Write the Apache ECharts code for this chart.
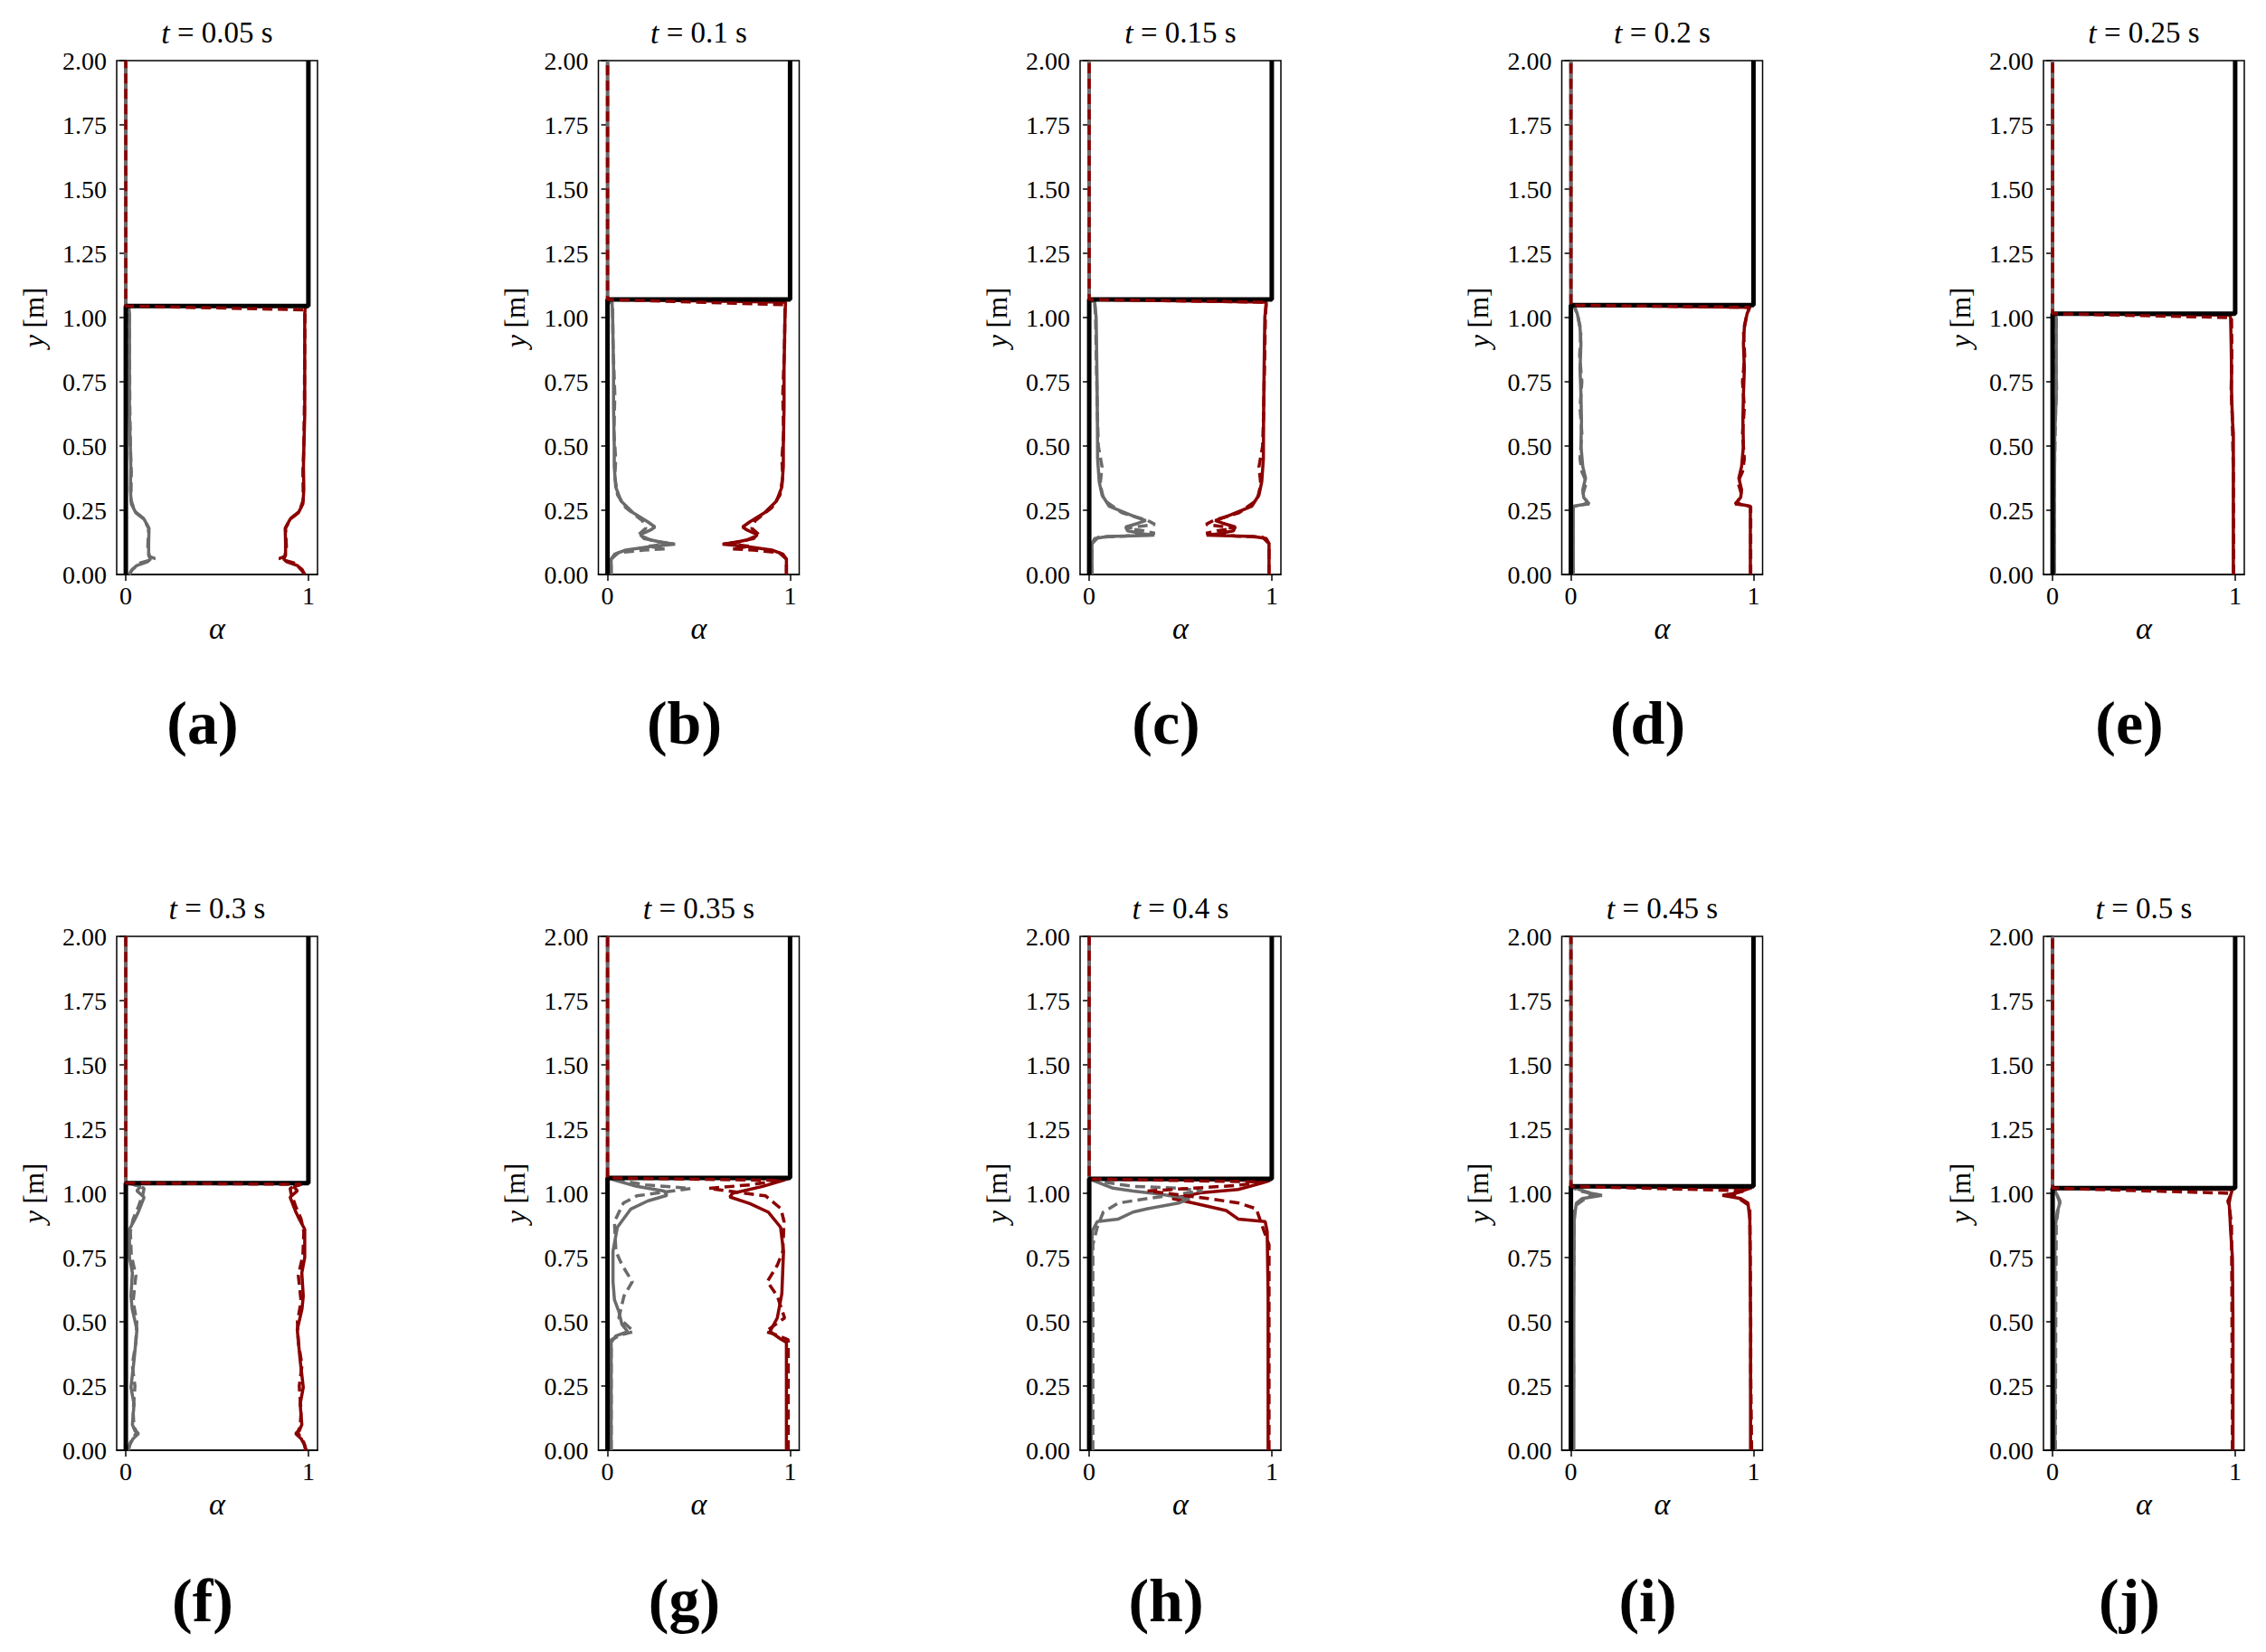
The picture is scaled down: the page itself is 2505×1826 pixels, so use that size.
<!DOCTYPE html>
<html>
<head>
<meta charset="utf-8">
<script src="https://cdn.jsdelivr.net/npm/echarts@6/dist/echarts.min.js"></script>
<style>
  html, body { margin: 0; padding: 0; background: #fff; }
  #chart { width: 2505px; height: 1826px; }
</style>
</head>
<body>
<div id="chart"></div>
<script>
// time of each snapshot, panel tags, interface height
const times = ['0.05', '0.1', '0.15', '0.2', '0.25', '0.3', '0.35', '0.4', '0.45', '0.5'];
const tags = ['(a)', '(b)', '(c)', '(d)', '(e)', '(f)', '(g)', '(h)', '(i)', '(j)'];
const levels = [1.045, 1.07, 1.07, 1.048, 1.015, 1.04, 1.06, 1.056, 1.027, 1.02];

// gray phase, solid line  [alpha, y]
const graySolid = [
  [[0.02,0],[0.03,0.015],[0.06,0.035],[0.12,0.05],[0.135,0.06],[0.125,0.075],[0.125,0.12],[0.127,0.18],[0.10,0.215],[0.055,0.24],[0.03,0.275],[0.025,0.33],[0.027,0.42],[0.025,0.49],[0.02,0.62],[0.02,0.8],[0.02,1.015],[0.017,1.04],[0,1.045],[0,2]],
  [[0.02,0],[0.02,0.06],[0.04,0.08],[0.1,0.095],[0.25,0.11],[0.37,0.118],[0.3,0.125],[0.2,0.14],[0.18,0.155],[0.24,0.175],[0.26,0.185],[0.22,0.205],[0.14,0.24],[0.075,0.285],[0.045,0.34],[0.037,0.42],[0.037,0.5],[0.033,0.65],[0.033,0.8],[0.028,1.0],[0.025,1.06],[0,1.07],[0,2]],
  [[0.015,0],[0.015,0.12],[0.03,0.14],[0.1,0.148],[0.357,0.153],[0.3,0.158],[0.21,0.17],[0.2,0.185],[0.27,0.2],[0.31,0.21],[0.25,0.225],[0.11,0.265],[0.07,0.31],[0.055,0.36],[0.046,0.45],[0.045,0.6],[0.042,0.8],[0.038,1.0],[0.03,1.06],[0,1.07],[0,2]],
  [[0.013,0],[0.013,0.265],[0.05,0.27],[0.1,0.275],[0.07,0.3],[0.065,0.33],[0.08,0.375],[0.065,0.42],[0.055,0.5],[0.058,0.6],[0.055,0.7],[0.05,0.8],[0.055,0.9],[0.05,0.96],[0.035,1.015],[0.02,1.04],[0,1.048],[0,2]],
  [[0.01,0],[0.01,0.3],[0.012,0.55],[0.015,0.6],[0.02,0.7],[0.02,0.8],[0.02,0.9],[0.02,1.0],[0.015,1.01],[0,1.015],[0,2]],
  [[0.012,0],[0.02,0.02],[0.04,0.045],[0.07,0.065],[0.05,0.075],[0.036,0.1],[0.045,0.18],[0.028,0.245],[0.045,0.35],[0.061,0.47],[0.035,0.55],[0.028,0.6],[0.036,0.69],[0.02,0.75],[0.02,0.86],[0.05,0.9],[0.07,0.93],[0.1,0.985],[0.06,1.01],[0.08,1.025],[0.03,1.038],[0,1.04],[0,2]],
  [[0.02,0],[0.02,0.42],[0.046,0.445],[0.11,0.462],[0.079,0.49],[0.062,0.54],[0.038,0.586],[0.03,0.656],[0.03,0.774],[0.054,0.868],[0.128,0.939],[0.22,0.97],[0.325,0.992],[0.31,1.009],[0.16,1.027],[0.046,1.05],[0.01,1.058],[0,1.06],[0,2]],
  [[0.011,0],[0.011,0.6],[0.015,0.82],[0.019,0.856],[0.044,0.89],[0.16,0.9],[0.24,0.927],[0.32,0.94],[0.49,0.962],[0.55,0.98],[0.37,0.998],[0.24,1.009],[0.13,1.02],[0.044,1.044],[0,1.056],[0,2]],
  [[0.016,0],[0.016,0.5],[0.018,0.9],[0.03,0.962],[0.063,0.98],[0.17,0.992],[0.11,1.0],[0.046,1.015],[0,1.027],[0,2]],
  [[0.013,0],[0.013,0.5],[0.013,0.856],[0.025,0.927],[0.04,0.962],[0.025,0.992],[0.01,1.015],[0,1.02],[0,2]]
];

// gray phase, dashed line
const grayDashed = [
  [[0.02,0],[0.035,0.02],[0.08,0.045],[0.16,0.062],[0.13,0.07],[0.12,0.1],[0.125,0.18],[0.095,0.22],[0.05,0.245],[0.028,0.29],[0.03,0.4],[0.025,0.5],[0.022,0.65],[0.02,0.9],[0.018,1.03],[0,1.045],[0,2]],
  [[0.02,0],[0.02,0.06],[0.06,0.085],[0.2,0.095],[0.32,0.1],[0.22,0.11],[0.36,0.12],[0.25,0.13],[0.17,0.155],[0.21,0.18],[0.19,0.21],[0.1,0.26],[0.055,0.31],[0.04,0.38],[0.045,0.45],[0.035,0.55],[0.04,0.7],[0.03,0.9],[0.028,1.05],[0,1.07],[0,2]],
  [[0.015,0],[0.015,0.12],[0.05,0.145],[0.2,0.15],[0.36,0.16],[0.3,0.17],[0.2,0.18],[0.36,0.195],[0.32,0.21],[0.18,0.24],[0.08,0.29],[0.06,0.35],[0.07,0.42],[0.05,0.5],[0.045,0.62],[0.04,0.8],[0.035,1.0],[0.03,1.06],[0,1.07],[0,2]],
  [[0.013,0],[0.013,0.265],[0.06,0.27],[0.09,0.28],[0.065,0.31],[0.085,0.36],[0.06,0.4],[0.05,0.45],[0.06,0.55],[0.05,0.65],[0.06,0.75],[0.048,0.85],[0.055,0.95],[0.04,1.0],[0.022,1.04],[0,1.048],[0,2]],
  [[0.008,0],[0.01,0.4],[0.016,0.62],[0.022,0.72],[0.018,0.85],[0.02,1.0],[0,1.015],[0,2]],
  [[0.015,0],[0.025,0.03],[0.06,0.07],[0.045,0.09],[0.04,0.15],[0.05,0.25],[0.035,0.33],[0.055,0.42],[0.06,0.5],[0.04,0.58],[0.055,0.68],[0.03,0.76],[0.025,0.85],[0.04,0.9],[0.07,0.95],[0.095,1.0],[0.1,1.02],[0.04,1.035],[0,1.04],[0,2]],
  [[0.02,0],[0.02,0.43],[0.08,0.45],[0.144,0.462],[0.062,0.515],[0.09,0.6],[0.136,0.656],[0.08,0.72],[0.046,0.774],[0.038,0.89],[0.087,0.962],[0.16,0.99],[0.456,1.019],[0.21,1.033],[0.06,1.05],[0,1.06],[0,2]],
  [[0.02,0],[0.02,0.8],[0.044,0.868],[0.077,0.927],[0.16,0.962],[0.32,0.98],[0.62,1.009],[0.49,1.02],[0.24,1.027],[0.077,1.044],[0,1.056],[0,2]],
  [[0.01,0],[0.015,0.3],[0.012,0.5],[0.02,0.95],[0.1,0.99],[0.145,0.995],[0.04,1.01],[0,1.027],[0,2]],
  [[0.015,0],[0.018,0.6],[0.02,0.88],[0.033,0.95],[0.04,0.97],[0.02,1.0],[0,1.02],[0,2]]
];

// red phase, solid line
const redSolid = [
  [[0.98,0],[0.965,0.015],[0.94,0.035],[0.88,0.05],[0.865,0.06],[0.875,0.075],[0.875,0.12],[0.873,0.18],[0.9,0.215],[0.945,0.24],[0.97,0.275],[0.975,0.33],[0.973,0.42],[0.975,0.49],[0.98,0.62],[0.98,0.8],[0.98,1.015],[0.983,1.04],[0.98,1.045],[0,1.045],[0,2]],
  [[0.98,0],[0.98,0.06],[0.96,0.08],[0.9,0.095],[0.75,0.11],[0.63,0.118],[0.7,0.125],[0.8,0.14],[0.82,0.155],[0.76,0.175],[0.74,0.185],[0.78,0.205],[0.86,0.24],[0.925,0.285],[0.955,0.34],[0.963,0.42],[0.963,0.5],[0.967,0.65],[0.967,0.8],[0.972,1.0],[0.975,1.06],[0,1.07],[0,2]],
  [[0.985,0],[0.985,0.12],[0.97,0.14],[0.9,0.148],[0.643,0.153],[0.7,0.158],[0.79,0.17],[0.8,0.185],[0.73,0.2],[0.69,0.21],[0.75,0.225],[0.89,0.265],[0.93,0.31],[0.945,0.36],[0.954,0.45],[0.955,0.6],[0.958,0.8],[0.962,1.0],[0.97,1.06],[0,1.07],[0,2]],
  [[0.983,0],[0.983,0.265],[0.95,0.27],[0.9,0.275],[0.93,0.3],[0.935,0.33],[0.92,0.375],[0.935,0.42],[0.945,0.5],[0.942,0.6],[0.945,0.7],[0.95,0.8],[0.945,0.9],[0.95,0.96],[0.965,1.015],[0.98,1.04],[0,1.048],[0,2]],
  [[0.99,0],[0.99,0.3],[0.99,0.55],[0.985,0.6],[0.98,0.72],[0.98,0.8],[0.978,0.9],[0.975,1.0],[0.97,1.01],[0,1.015],[0,2]],
  [[0.988,0],[0.98,0.02],[0.96,0.045],[0.93,0.065],[0.95,0.075],[0.964,0.1],[0.955,0.18],[0.972,0.245],[0.955,0.35],[0.939,0.47],[0.965,0.55],[0.972,0.6],[0.964,0.69],[0.98,0.75],[0.98,0.86],[0.95,0.9],[0.93,0.93],[0.9,0.985],[0.94,1.01],[0.92,1.025],[0.97,1.038],[0,1.04],[0,2]],
  [[0.98,0],[0.98,0.42],[0.948,0.433],[0.89,0.462],[0.93,0.515],[0.955,0.61],[0.964,0.774],[0.948,0.868],[0.88,0.927],[0.78,0.96],[0.67,0.986],[0.685,1.0],[0.85,1.027],[0.96,1.05],[0.99,1.058],[0,1.06],[0,2]],
  [[0.98,0],[0.98,0.6],[0.975,0.85],[0.964,0.89],[0.816,0.9],[0.75,0.933],[0.57,0.962],[0.455,0.98],[0.62,1.003],[0.816,1.015],[0.947,1.04],[0.99,1.05],[0,1.056],[0,2]],
  [[0.984,0],[0.984,0.5],[0.98,0.9],[0.97,0.962],[0.93,0.98],[0.83,0.992],[0.9,1.0],[0.96,1.015],[0.99,1.022],[0,1.027],[0,2]],
  [[0.988,0],[0.988,0.5],[0.985,0.75],[0.975,0.856],[0.97,0.93],[0.967,0.962],[0.975,0.992],[0.985,1.015],[0,1.02],[0,2]]
];

// red phase, dashed line
const redDashed = [
  [[0.98,0],[0.965,0.02],[0.92,0.045],[0.84,0.062],[0.87,0.07],[0.88,0.1],[0.875,0.18],[0.905,0.22],[0.95,0.245],[0.972,0.29],[0.97,0.4],[0.975,0.5],[0.978,0.65],[0.98,0.9],[0.982,1.03],[0,1.045],[0,2]],
  [[0.98,0],[0.98,0.06],[0.94,0.085],[0.8,0.095],[0.68,0.1],[0.78,0.11],[0.64,0.12],[0.75,0.13],[0.83,0.155],[0.79,0.18],[0.81,0.21],[0.9,0.26],[0.945,0.31],[0.96,0.38],[0.955,0.45],[0.965,0.55],[0.96,0.7],[0.97,0.9],[0.972,1.05],[0,1.07],[0,2]],
  [[0.985,0],[0.985,0.12],[0.95,0.145],[0.8,0.15],[0.64,0.16],[0.7,0.17],[0.8,0.18],[0.64,0.195],[0.68,0.21],[0.82,0.24],[0.92,0.29],[0.94,0.35],[0.93,0.42],[0.95,0.5],[0.955,0.62],[0.96,0.8],[0.965,1.0],[0.97,1.06],[0,1.07],[0,2]],
  [[0.985,0],[0.985,0.265],[0.94,0.27],[0.91,0.28],[0.935,0.31],[0.915,0.36],[0.94,0.4],[0.95,0.45],[0.94,0.55],[0.95,0.65],[0.94,0.75],[0.952,0.85],[0.945,0.95],[0.96,1.0],[0.978,1.04],[0,1.048],[0,2]],
  [[0.992,0],[0.99,0.4],[0.984,0.62],[0.978,0.72],[0.982,0.85],[0.98,1.0],[0,1.015],[0,2]],
  [[0.985,0],[0.975,0.03],[0.94,0.07],[0.955,0.09],[0.96,0.15],[0.95,0.25],[0.965,0.33],[0.945,0.42],[0.94,0.5],[0.96,0.58],[0.945,0.68],[0.97,0.76],[0.975,0.85],[0.96,0.9],[0.93,0.95],[0.905,1.0],[0.9,1.02],[0.96,1.035],[0,1.04],[0,2]],
  [[0.99,0],[0.99,0.43],[0.92,0.45],[0.866,0.462],[0.97,0.515],[0.93,0.6],[0.875,0.656],[0.93,0.72],[0.96,0.774],[0.967,0.89],[0.95,0.94],[0.866,0.99],[0.554,1.019],[0.78,1.033],[0.95,1.05],[0,1.06],[0,2]],
  [[0.985,0],[0.985,0.8],[0.956,0.856],[0.915,0.94],[0.82,0.962],[0.65,0.98],[0.32,1.009],[0.57,1.02],[0.8,1.03],[0.95,1.044],[0,1.056],[0,2]],
  [[0.99,0],[0.985,0.3],[0.985,0.5],[0.98,0.95],[0.9,0.99],[0.855,0.995],[0.96,1.01],[0,1.027],[0,2]],
  [[0.985,0],[0.982,0.6],[0.98,0.88],[0.967,0.95],[0.96,0.97],[0.98,1.0],[0,1.02],[0,2]]
];

const SERIF = '"Liberation Serif", "DejaVu Serif", serif';
const GRAY = '#6b6b6b';
const RED = '#8b0000';

var chart = echarts.init(document.getElementById('chart'), null, { renderer: 'svg' });

var grids = [], xAxes = [], yAxes = [], series = [], graphics = [];

for (let i = 0; i < 10; i++) {
  let col = i % 5, row = Math.floor(i / 5);
  let left = 129 + col * 532.5;
  let top = row === 0 ? 67 : 1035;
  grids.push({
    left: left, top: top, width: 222, height: 568,
    show: true, borderColor: '#000', borderWidth: 1.5, backgroundColor: 'transparent'
  });
  xAxes.push({
    type: 'value', gridIndex: i, min: -0.05, max: 1.05,
    name: 'α', nameLocation: 'middle', nameGap: 42,
    nameTextStyle: { fontFamily: SERIF, fontSize: 34, fontStyle: 'italic', color: '#000' },
    axisLine: { show: true, lineStyle: { color: '#000', width: 1.5 } },
    axisTick: { show: true, length: 7, customValues: [0, 1], lineStyle: { color: '#000', width: 1.5 } },
    axisLabel: { customValues: [0, 1], margin: 9, fontFamily: SERIF, fontSize: 28, color: '#000',
      formatter: v => String(Math.round(v)) },
    splitLine: { show: false }
  });
  yAxes.push({
    type: 'value', gridIndex: i, min: 0, max: 2, interval: 0.25,
    name: '{i|y} {n|[m]}', nameLocation: 'middle', nameGap: 76, nameRotate: 90,
    nameTextStyle: { fontFamily: SERIF, fontSize: 31, color: '#000',
      rich: {
        i: { fontFamily: SERIF, fontSize: 32, fontStyle: 'italic', color: '#000' },
        n: { fontFamily: SERIF, fontSize: 31, color: '#000' }
      } },
    axisLine: { show: true, lineStyle: { color: '#000', width: 1.5 } },
    axisTick: { show: true, length: 7, lineStyle: { color: '#000', width: 1.5 } },
    axisLabel: { margin: 11, fontFamily: SERIF, fontSize: 28, color: '#000',
      formatter: v => v.toFixed(2) },
    splitLine: { show: false }
  });

  let h = levels[i];
  let base = { type: 'line', xAxisIndex: i, yAxisIndex: i, symbol: 'none', silent: true, animation: false };
  series.push(Object.assign({}, base, { data: redSolid[i], lineStyle: { color: RED, width: 3.5 }, z: 2 }));
  series.push(Object.assign({}, base, { data: graySolid[i], lineStyle: { color: GRAY, width: 3.5 }, z: 3 }));
  series.push(Object.assign({}, base, { data: grayDashed[i], lineStyle: { color: GRAY, width: 3.5, type: [11, 6] }, z: 4 }));
  series.push(Object.assign({}, base, { data: [[0, 0], [0, h], [1, h], [1, 2]], lineStyle: { color: '#000', width: 5 }, z: 5 }));
  series.push(Object.assign({}, base, { data: redDashed[i], lineStyle: { color: RED, width: 3.5, type: [11, 6] }, z: 6 }));

  graphics.push({
    type: 'text', x: left + 111, y: row === 0 ? 36 : 1004,
    style: {
      text: '{i|t} = ' + times[i] + ' s',
      font: '33px ' + SERIF, fill: '#000', align: 'center', verticalAlign: 'middle',
      rich: { i: { fontFamily: SERIF, fontSize: 34, fontStyle: 'italic', fill: '#000' } }
    }
  });
  graphics.push({
    type: 'text', x: left + 95, y: row === 0 ? 799 : 1769,
    style: {
      text: tags[i], font: 'bold 68px ' + SERIF, fill: '#000',
      align: 'center', verticalAlign: 'middle'
    }
  });
}

chart.setOption({
  backgroundColor: '#fff',
  animation: false,
  grid: grids,
  xAxis: xAxes,
  yAxis: yAxes,
  series: series,
  graphic: graphics
});
</script>
</body>
</html>
